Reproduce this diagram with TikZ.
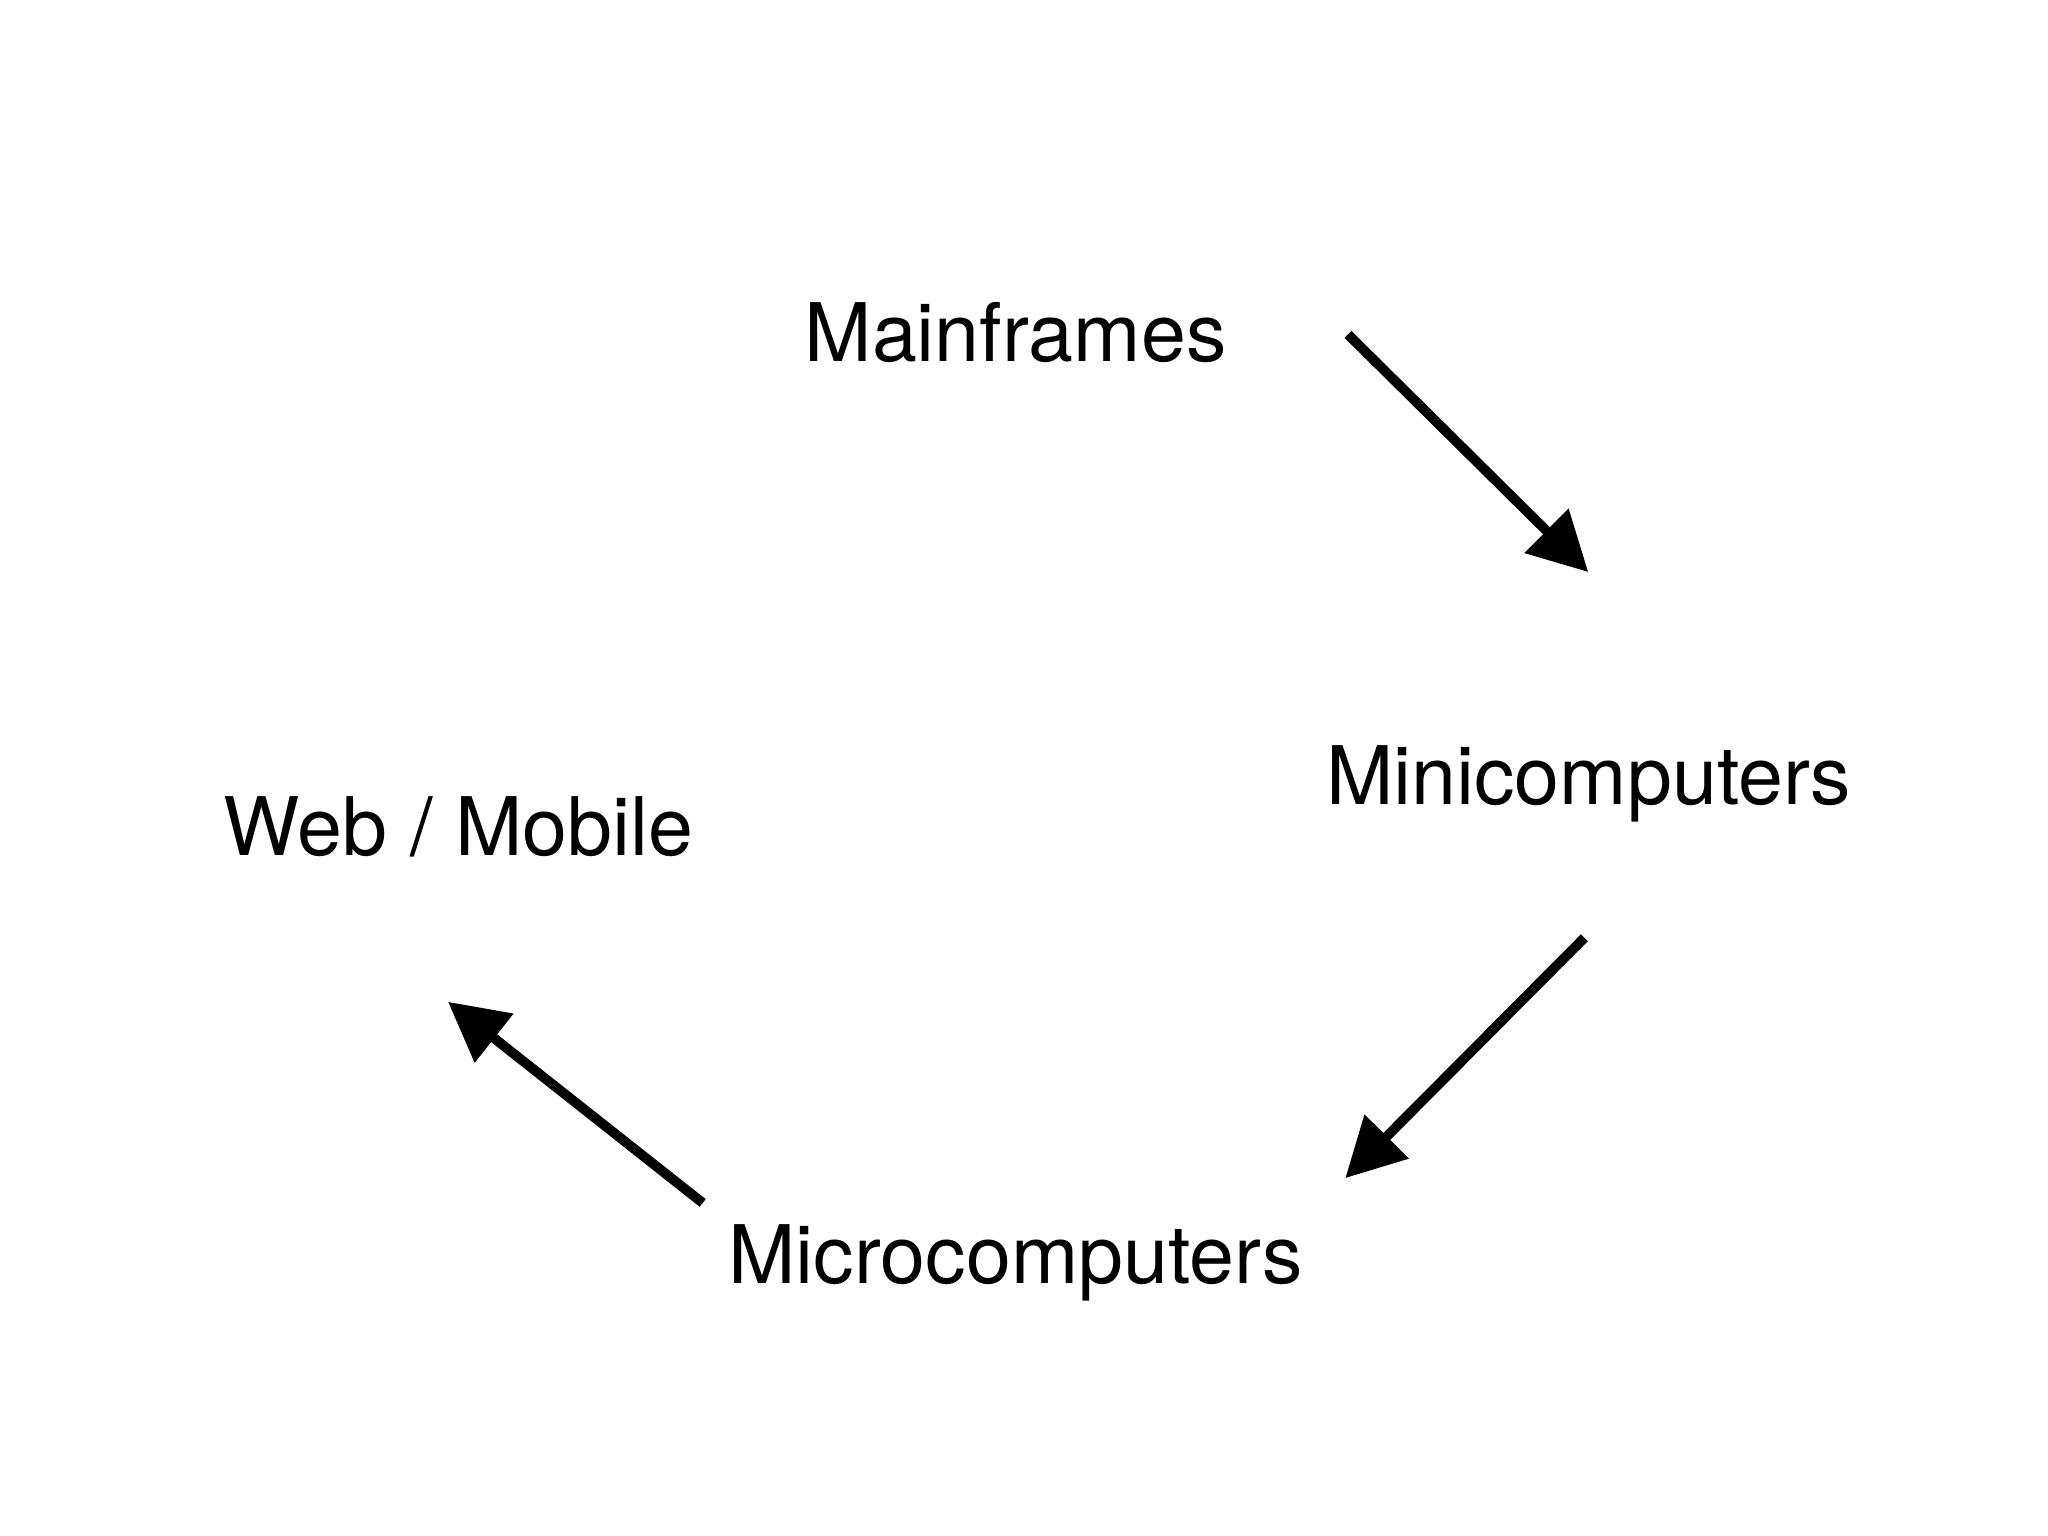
\documentclass[tikz,border=0pt]{standalone}
\usepackage{fontspec}
\setmainfont{TeX Gyre Heros}
\usetikzlibrary{arrows.meta}
\begin{document}
\begin{tikzpicture}[
  lbl/.style={font=\fontsize{17.6pt}{20pt}\selectfont, inner sep=0pt, anchor=base},
  flow/.style={line width=0.075cm, -{Triangle[length=0.45cm,width=0.46cm]}}]
\useasboundingbox (0,0) rectangle (15.68,-11.76);
\node[lbl] (main) at (7.775,-2.77) {Mainframes};
\node[lbl] (mini) at (12.165,-6.16) {Minicomputers};
\node[lbl] (web) at (3.51,-6.55) {Web / Mobile};
\node[lbl] (micro) at (7.775,-9.83) {Microcomputers};
\coordinate (a1s) at (10.32,-2.56);
\coordinate (a1e) at (12.16,-4.38);
\coordinate (a2s) at (12.13,-7.18);
\coordinate (a2e) at (10.30,-9.02);
\coordinate (a3s) at (5.38,-9.21);
\coordinate (a3e) at (3.43,-7.67);
\draw[flow] (a1s) -- (a1e);
\draw[flow] (a2s) -- (a2e);
\draw[flow] (a3s) -- (a3e);
\end{tikzpicture}
\end{document}
